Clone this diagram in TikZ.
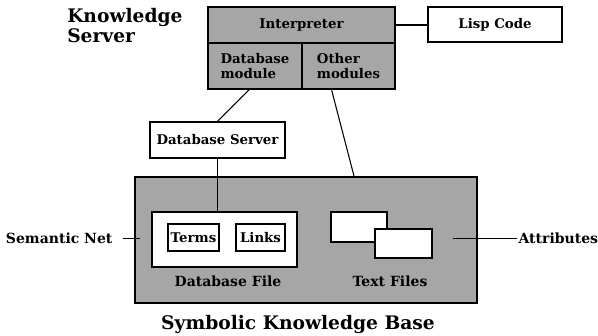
\documentclass[tikz,border=0pt]{standalone}
\usepackage{fontspec}
\setmainfont{DejaVu Serif}
\usetikzlibrary{
		calc,
		positioning
	}
\tikzset{
		>=stealth,
		box/.style={draw, line width=1pt, inner sep=0pt, font=\bfseries\fontsize{10}{11}\selectfont},
		shaded/.style={box, fill=black!35},
		plain/.style={box, fill=white},
		label/.style={inner sep=1pt, font=\bfseries\fontsize{10.5}{12}\selectfont},
		title/.style={inner sep=0pt, font=\bfseries\fontsize{14}{15}\selectfont}
	}

\begin{document}
\begin{tikzpicture}[x=0.75pt,y=-0.75pt]
    \useasboundingbox (0,0) rectangle (598,335);

    % the knowledge server
    \node[shaded, minimum width=140.25pt, minimum height=27pt] (interp) at (301.5,25) {Interpreter};
    \node[shaded, minimum width=70.5pt, minimum height=34.5pt, align=left] (dbmod) at (255,66) {Database\\module};
    \node[shaded, minimum width=69.75pt, minimum height=34.5pt, align=left] (othmod) at (348.5,66) {Other\\modules};
    \node[title, anchor=north west, align=left] (kserv) at (67,8) {Knowledge\\Server};

    % the boxes beside it
    \node[plain, minimum width=100.5pt, minimum height=26.25pt] (lisp) at (495,24.5) {Lisp Code};
    \node[plain, minimum width=101.25pt, minimum height=27pt] (dbserv) at (217.5,140) {Database Server};

    % the knowledge base and what is in it
    \node[shaded, minimum width=256.5pt, minimum height=94.5pt] (kbase) at (306,240) {};
    \node[plain, minimum width=108.75pt, minimum height=41.25pt] (dbfile) at (224.5,239.5) {};
    \node[plain, minimum width=38.25pt, minimum height=20.25pt] (terms) at (193.5,237.5) {Terms};
    \node[plain, minimum width=36.75pt, minimum height=20.25pt] (links) at (260.5,237.5) {Links};
    \node[label] (dbfilelab) at (228,281) {Database File};
    \node[plain, minimum width=42pt, minimum height=22.5pt] (tf1) at (359,227) {};
    \node[plain, minimum width=42.75pt, minimum height=21.75pt] (tf2) at (403.5,243.5) {};
    \node[label] (tflab) at (390,281) {Text Files};
    \node[title] (kblab) at (298,324) {Symbolic Knowledge Base};

    % the texts on the sides
    \node[label, anchor=east] (semnet) at (114,238) {Semantic Net};
    \node[label, anchor=west] (attr) at (517,238) {Attributes};
    \coordinate (snend) at (140,238);
    \coordinate (atend) at (453,238);

    %draw the lines
    \draw[line width=0.8pt] (interp.east) -- (interp.east -| lisp.west);
    \draw[line width=0.8pt] ($(dbmod.south west)!0.44!(dbmod.south east)$) -- (dbserv.north);
    \draw[line width=0.8pt] ($(othmod.south west)!0.32!(othmod.south east)$) -- ($(kbase.north west)!0.64!(kbase.north east)$);
    \draw[line width=0.8pt] (dbserv.south) -- (dbserv.south |- dbfile.north);
    \draw[line width=0.6pt] ([xshift=7pt]semnet.east) -- (snend);
    \draw[line width=0.6pt] (attr.west) -- (atend);

\end{tikzpicture}
\end{document}
